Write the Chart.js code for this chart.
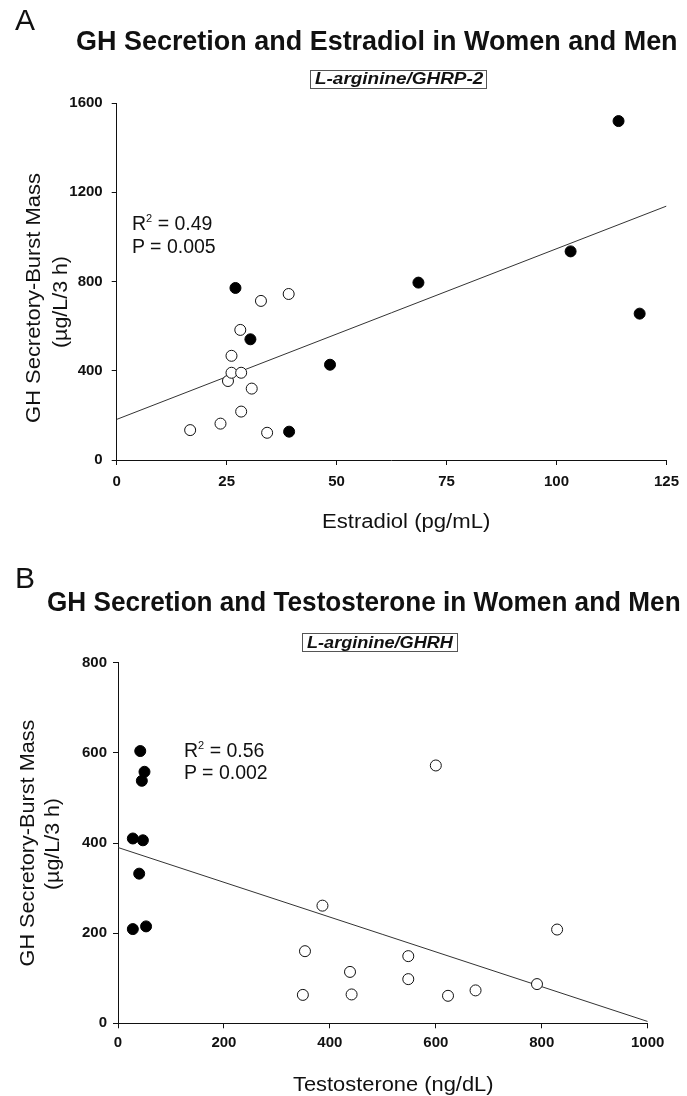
<!DOCTYPE html>
<html lang="en">
<head>
<meta charset="UTF-8">
<title>GH Secretion and Sex Steroids in Women and Men</title>
<script src="https://cdn.jsdelivr.net/npm/chart.js"></script>
<style>
    body { margin: 0; background: #fff; font-family: "Liberation Sans", Arial, sans-serif; color: #111; }
    #page { position: relative; width: 687px; height: 1096px; overflow: hidden; }
    canvas { position: absolute; left: 0; }
    .txt { position: absolute; white-space: nowrap; line-height: 1; transform-origin: 0 0; }
    .letter { font-size: 30px; }
    .title { font-size: 27px; font-weight: bold; }
    .cond { font-size: 16px; font-weight: bold; font-style: italic; }
    .stat { font-size: 19.5px; }
    .axt { font-size: 20px; }
    .sup { font-size: 11px; position: relative; top: -8px; }
    .box { position: absolute; border: 1px solid #555; box-sizing: border-box; height: 19px; }
</style>
</head>
<body>
<div id="page">
    <canvas id="chartA" width="687" height="540" style="top:0"></canvas>
    <canvas id="chartB" width="687" height="556" style="top:540px"></canvas>

    <!-- panel A text -->
    <div class="txt letter" style="left:15px; top:5px">A</div>
    <div class="txt title" style="left:76px; top:28px" data-w="602">GH Secretion and Estradiol in Women and Men</div>
    <div class="box" style="left:310px; top:70px; width:177px"></div>
    <div class="txt cond" style="top:71px" data-cx="398.5" data-w="168">L-arginine/GHRP-2</div>
    <div class="txt stat" style="left:132px; top:214px">R<span class="sup">2</span> = 0.49</div>
    <div class="txt stat" style="left:132px; top:237px">P = 0.005</div>
    <div class="txt axt" style="top:511px" data-cx="406" data-w="168">Estradiol (pg/mL)</div>
    <div class="txt axt" data-rot="33,298" data-w="250">GH Secretory-Burst Mass</div>
    <div class="txt axt" data-rot="60,302" data-w="92">(µg/L/3 h)</div>

    <!-- panel B text -->
    <div class="txt letter" style="left:15px; top:563px">B</div>
    <div class="txt title" style="left:47px; top:589px" data-w="634">GH Secretion and Testosterone in Women and Men</div>
    <div class="box" style="left:302px; top:633px; width:156px"></div>
    <div class="txt cond" style="top:634.5px" data-cx="380" data-w="146">L-arginine/GHRH</div>
    <div class="txt stat" style="left:184px; top:741px">R<span class="sup">2</span> = 0.56</div>
    <div class="txt stat" style="left:184px; top:763px">P = 0.002</div>
    <div class="txt axt" style="top:1074px" data-cx="393" data-w="200">Testosterone (ng/dL)</div>
    <div class="txt axt" data-rot="27,843" data-w="247">GH Secretory-Burst Mass</div>
    <div class="txt axt" data-rot="52,844" data-w="92">(µg/L/3 h)</div>
</div>

<script>
// Panel A: estradiol (pg/mL) vs GH burst mass (µg/L/3 h), L-arginine/GHRP-2
const e2Men = [16.7, 23.6, 28.3, 34.2, 30.7, 25.3, 26.1, 28.3, 26.1, 28.1, 32.8, 39.1];
const ghE2Men = [134, 163, 217, 122, 320, 354, 391, 391, 467, 583, 713, 744];
const e2Women = [27.0, 30.4, 39.2, 48.5, 68.6, 103.2, 114.1, 118.9];
const ghE2Women = [771, 541, 127, 427, 795, 935, 1519, 656];
const e2FitX = [0, 125];
const e2FitY = [182, 1138];
const e2Ticks = [0, 25, 50, 75, 100, 125];
const ghTicksA = [0, 400, 800, 1200, 1600];

// Panel B: testosterone (ng/dL) vs GH burst mass, L-arginine/GHRH
const testoWomen = [42, 50, 45, 28, 47, 40, 28, 53];
const ghTestoWomen = [604, 558, 538, 410, 406, 332, 209, 215];
const testoMen = [386, 353, 349, 600, 829, 548, 438, 441, 548, 623, 675, 791];
const ghTestoMen = [261, 160, 63, 572, 208, 149, 114, 64, 98, 61, 73, 87];
const testoFitX = [0, 1000];
const testoFitY = [390, 4];
const testoTicks = [0, 200, 400, 600, 800, 1000];
const ghTicksB = [0, 200, 400, 600, 800];

function pts(xs, ys) {
    return xs.map((x, i) => ({ x: x, y: ys[i] }));
}

function axis(ticks, size, dir, pad) {
    return {
        type: "linear",
        position: dir === "x" ? "bottom" : "left",
        min: ticks[0],
        max: ticks[ticks.length - 1],
        afterBuildTicks: s => { s.ticks = ticks.map(v => ({ value: v })); },
        afterFit: s => { if (dir === "x") s.height = size; else s.width = size; },
        border: { display: true, color: "#111", width: 1 },
        grid: { display: true, drawOnChartArea: false, drawTicks: true, tickLength: 5, color: "#111", lineWidth: 1 },
        ticks: {
            color: "#111",
            padding: pad,
            autoSkip: false,
            maxRotation: 0,
            font: { family: '"Liberation Sans", Arial, sans-serif', size: 15, weight: "bold" },
            callback: v => String(v)
        }
    };
}

function scatterChart(id, p) {
    return new Chart(document.getElementById(id), {
        type: "scatter",
        data: {
            datasets: [
                { label: "Regression", type: "line", data: pts(p.fitX, p.fitY), borderColor: "#333", borderWidth: 1,
                  pointRadius: 0, fill: false, tension: 0, order: 3 },
                { label: "Women", data: pts(p.womenX, p.womenY), backgroundColor: "#000", borderColor: "#000",
                  borderWidth: 1, pointRadius: 5.5, order: 2 },
                { label: "Men", data: pts(p.menX, p.menY), backgroundColor: "#fff", borderColor: "#111",
                  borderWidth: 1, pointRadius: 5.5, order: 1 }
            ]
        },
        options: {
            responsive: false,
            animation: false,
            devicePixelRatio: 1,
            layout: { padding: { left: 0, top: p.top, right: p.right, bottom: 0 } },
            plugins: { legend: { display: false }, tooltip: { enabled: false } },
            scales: {
                x: axis(p.xTicks, p.xHeight, "x", p.xPad),
                y: axis(p.yTicks, p.yWidth, "y", p.yPad)
            }
        }
    });
}

scatterChart("chartA", {
    womenX: e2Women, womenY: ghE2Women, menX: e2Men, menY: ghE2Men,
    fitX: e2FitX, fitY: e2FitY, xTicks: e2Ticks, yTicks: ghTicksA,
    top: 103, right: 20, yWidth: 116.7, xHeight: 80, xPad: 8, yPad: 9
});

scatterChart("chartB", {
    womenX: testoWomen, womenY: ghTestoWomen, menX: testoMen, menY: ghTestoMen,
    fitX: testoFitX, fitY: testoFitY, xTicks: testoTicks, yTicks: ghTicksB,
    top: 122.7, right: 39.3, yWidth: 118, xHeight: 72.7, xPad: 6, yPad: 6
});

// squeeze/stretch text to the widths measured on the figure
document.querySelectorAll(".txt[data-w]").forEach(el => {
    const w = el.offsetWidth, h = el.offsetHeight;
    const k = +el.dataset.w / w;
    if (el.dataset.rot) {
        const [cx, cy] = el.dataset.rot.split(",").map(Number);
        el.style.left = (cx - w / 2) + "px";
        el.style.top = (cy - h / 2) + "px";
        el.style.transformOrigin = "50% 50%";
        el.style.transform = "rotate(-90deg) scaleX(" + k + ")";
    } else {
        if (el.dataset.cx) el.style.left = (+el.dataset.cx - el.dataset.w / 2) + "px";
        el.style.transform = "scaleX(" + k + ")";
    }
});
</script>
</body>
</html>
